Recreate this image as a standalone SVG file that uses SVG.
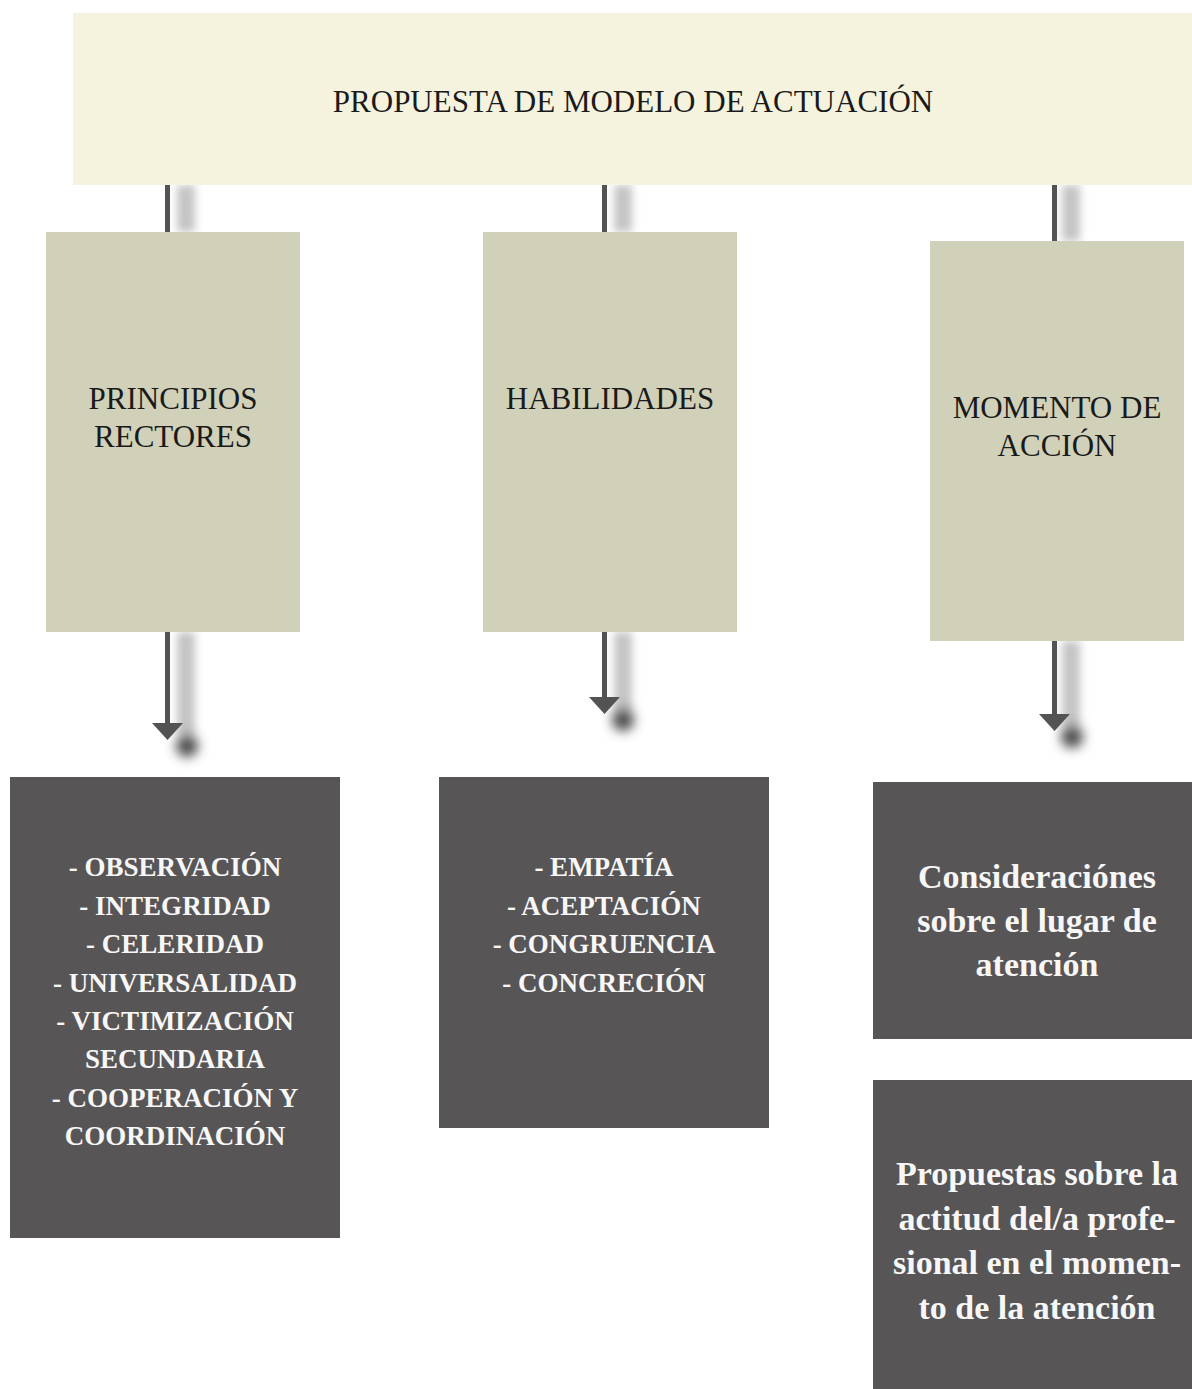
<svg xmlns="http://www.w3.org/2000/svg" width="1192" height="1389" viewBox="0 0 1192 1389">
<defs>
<filter id="blur" x="-100%" y="-20%" width="300%" height="140%"><feGaussianBlur stdDeviation="4.5"/></filter>
<filter id="blur2" x="-100%" y="-100%" width="300%" height="300%"><feGaussianBlur stdDeviation="6"/></filter>
<style>
.top{fill:#f5f2de}
.mid{fill:#d1d1b9}
.dark{fill:#575556}
.t{font-family:"Liberation Serif",serif;fill:#1a1a1a;text-anchor:middle}
.w{font-family:"Liberation Serif",serif;fill:#f7f7f7;font-weight:bold;text-anchor:middle}
.ln{stroke:#535353;stroke-width:5;fill:none}
.ah{fill:#535353}
.band{fill:#c4c4c4;filter:url(#blur)}
.dot{fill:#4a4a4a;filter:url(#blur2)}
</style>
</defs>
<rect width="1192" height="1389" fill="#ffffff"/>
<g id="connectors">
<g id="shadows">
<rect class="band" x="177" y="185" width="18" height="47"/>
<rect class="band" x="614" y="185" width="18" height="47"/>
<rect class="band" x="1062" y="185" width="18" height="56"/>
<rect class="band" x="177" y="632" width="18" height="104"/>
<rect class="band" x="614" y="632" width="18" height="80"/>
<rect class="band" x="1062" y="641" width="18" height="87"/>
<circle class="dot" cx="187" cy="746" r="11"/>
<circle class="dot" cx="623" cy="720" r="11"/>
<circle class="dot" cx="1072" cy="737" r="11"/>
</g>
<line class="ln" x1="167.5" y1="185" x2="167.5" y2="232"/>
<line class="ln" x1="604.5" y1="185" x2="604.5" y2="232"/>
<line class="ln" x1="1054.5" y1="185" x2="1054.5" y2="241"/>
<line class="ln" x1="167.5" y1="632" x2="167.5" y2="724"/>
<polygon class="ah" points="152,723 183,723 167.5,740"/>
<line class="ln" x1="604.5" y1="632" x2="604.5" y2="698"/>
<polygon class="ah" points="589,697 620,697 604.5,714"/>
<line class="ln" x1="1054.5" y1="641" x2="1054.5" y2="715"/>
<polygon class="ah" points="1039,714 1070,714 1054.5,731"/>
</g>
<g id="node-top">
<rect class="top" x="73" y="13" width="1119" height="172"/>
<text class="t" x="633" y="112" font-size="31">PROPUESTA DE MODELO DE ACTUACIÓN</text>
</g>
<g id="node-principios">
<rect class="mid" x="46" y="232" width="254" height="400"/>
<text class="t" x="173" y="409" font-size="31">PRINCIPIOS</text>
<text class="t" x="173" y="447" font-size="31">RECTORES</text>
</g>
<g id="node-habilidades">
<rect class="mid" x="483" y="232" width="254" height="400"/>
<text class="t" x="610" y="409" font-size="31">HABILIDADES</text>
</g>
<g id="node-momento">
<rect class="mid" x="930" y="241" width="254" height="400"/>
<text class="t" x="1057" y="418" font-size="31">MOMENTO DE</text>
<text class="t" x="1057" y="456" font-size="31">ACCIÓN</text>
</g>
<g id="node-principios-list">
<rect class="dark" x="10" y="777" width="330" height="461"/>
<g font-size="27">
<text class="w" x="175" y="876">- OBSERVACIÓN</text>
<text class="w" x="175" y="915">- INTEGRIDAD</text>
<text class="w" x="175" y="953">- CELERIDAD</text>
<text class="w" x="175" y="992">- UNIVERSALIDAD</text>
<text class="w" x="175" y="1030">- VICTIMIZACIÓN</text>
<text class="w" x="175" y="1068">SECUNDARIA</text>
<text class="w" x="175" y="1107">- COOPERACIÓN Y</text>
<text class="w" x="175" y="1145">COORDINACIÓN</text>
</g>
</g>
<g id="node-habilidades-list">
<rect class="dark" x="439" y="777" width="330" height="351"/>
<g font-size="27">
<text class="w" x="604" y="876">- EMPATÍA</text>
<text class="w" x="604" y="915">- ACEPTACIÓN</text>
<text class="w" x="604" y="953">- CONGRUENCIA</text>
<text class="w" x="604" y="992">- CONCRECIÓN</text>
</g>
</g>
<g id="node-consideraciones">
<rect class="dark" x="873" y="782" width="319" height="257"/>
<g font-size="34">
<text class="w" x="1037" y="888">Consideraciónes</text>
<text class="w" x="1037" y="932">sobre el lugar de</text>
<text class="w" x="1037" y="976">atención</text>
</g>
</g>
<g id="node-propuestas">
<rect class="dark" x="873" y="1080" width="319" height="309"/>
<g font-size="34">
<text class="w" x="1037" y="1185">Propuestas sobre la</text>
<text class="w" x="1037" y="1230">actitud del/a profe-</text>
<text class="w" x="1037" y="1274">sional en el momen-</text>
<text class="w" x="1037" y="1319">to de la atención</text>
</g>
</g>
</svg>
